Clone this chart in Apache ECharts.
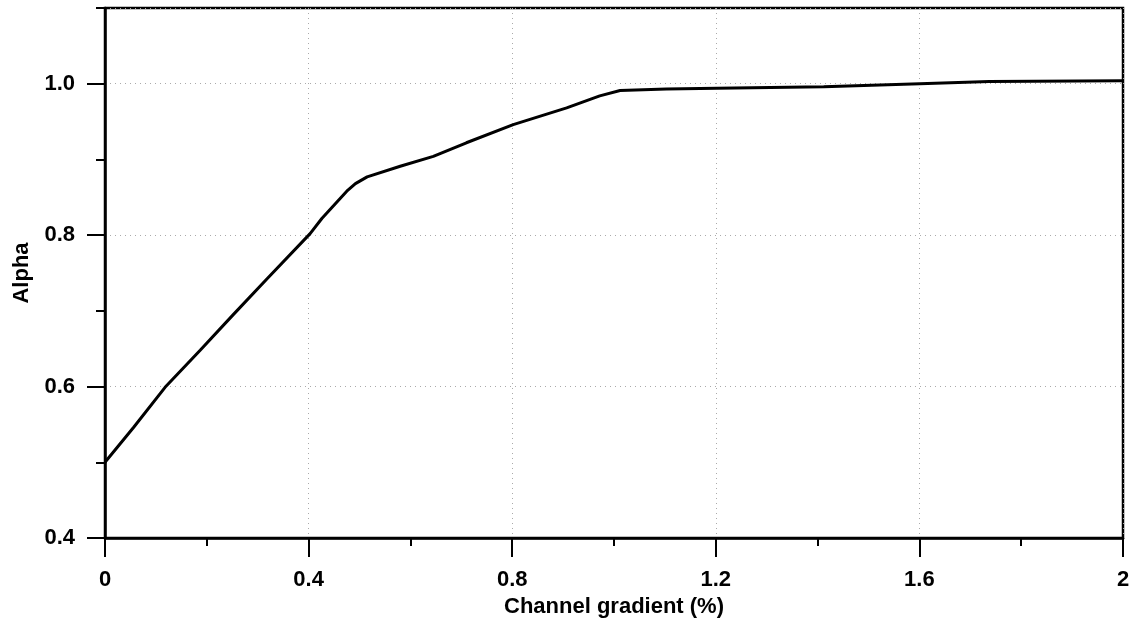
<!DOCTYPE html>
<html>
<head>
<meta charset="utf-8">
<script src="https://cdn.jsdelivr.net/npm/echarts@6.0.0/dist/echarts.min.js"></script>
<style>
  html, body { margin: 0; padding: 0; background: #fff; }
  #main { width: 1147px; height: 623px; }
</style>
</head>
<body>
<div id="main"></div>
<script>
// values
var gradient = [0, 0.056, 0.118, 0.187, 0.252, 0.318, 0.403, 0.426, 0.475, 0.492, 0.515, 0.58, 0.645, 0.71, 0.802, 0.907, 0.972, 1.012, 1.103, 1.202, 1.412, 1.601, 1.737, 2.0];
var alpha = [0.5, 0.546, 0.599, 0.648, 0.695, 0.742, 0.802, 0.822, 0.858, 0.868, 0.877, 0.891, 0.904, 0.922, 0.946, 0.968, 0.984, 0.991, 0.993, 0.994, 0.996, 1.0, 1.003, 1.004];
var xTicks = [0, 0.4, 0.8, 1.2, 1.6, 2];
var yTicks = [0.4, 0.6, 0.8, 1.0];

var font = 'Liberation Sans, Arial, sans-serif';

var points = gradient.map(function (g, i) {
    return [g, alpha[i]];
});

var myChart = echarts.init(document.getElementById('main'));

option = {
    animation: false,
    backgroundColor: '#fff',
    grid: {
        left: 105,
        right: 24,
        top: 8,
        bottom: 85,
        show: true,
        borderColor: '#000',
        borderWidth: 2.5
    },
    xAxis: {
        type: 'value',
        min: xTicks[0],
        max: xTicks[xTicks.length - 1],
        interval: 0.4,
        name: 'Channel gradient (%)',
        nameLocation: 'middle',
        nameGap: 58,
        nameTextStyle: { fontFamily: font, fontWeight: 'bold', fontSize: 22, color: '#000' },
        axisLine: { lineStyle: { color: '#000', width: 2.5 } },
        axisTick: { length: 19, lineStyle: { color: '#000', width: 2 } },
        minorTick: { show: true, splitNumber: 2, length: 8, lineStyle: { color: '#000', width: 2 } },
        axisLabel: { margin: 31, fontFamily: font, fontWeight: 'bold', fontSize: 22, color: '#000' },
        splitLine: { show: true, lineStyle: { color: '#aaa', type: [1, 4], width: 1 } }
    },
    yAxis: [
        {
            type: 'value',
            min: yTicks[0],
            max: 1.1,
            interval: 0.2,
            name: 'Alpha',
            nameLocation: 'middle',
            nameGap: 72,
            nameTextStyle: { fontFamily: font, fontWeight: 'bold', fontSize: 22, color: '#000' },
            axisLine: { show: true, lineStyle: { color: '#000', width: 2.5 } },
            axisTick: { show: true, length: 18, lineStyle: { color: '#000', width: 2 } },
            axisLabel: {
                margin: 30,
                showMaxLabel: false,
                fontFamily: font, fontWeight: 'bold', fontSize: 22, color: '#000',
                formatter: function (v) { return v.toFixed(1); }
            },
            splitLine: { show: true, lineStyle: { color: '#aaa', type: [1, 4], width: 1 } }
        },
        {
            // short ticks every 0.1
            type: 'value',
            position: 'left',
            min: yTicks[0],
            max: 1.1,
            interval: 0.1,
            axisLine: { show: false },
            axisTick: { show: true, length: 9, lineStyle: { color: '#000', width: 2 } },
            axisLabel: { show: false },
            splitLine: { show: false }
        }
    ],
    series: [
        {
            type: 'line',
            data: points,
            symbol: 'none',
            lineStyle: { color: '#000', width: 3 }
        }
    ]
};

myChart.setOption(option);
</script>
</body>
</html>
